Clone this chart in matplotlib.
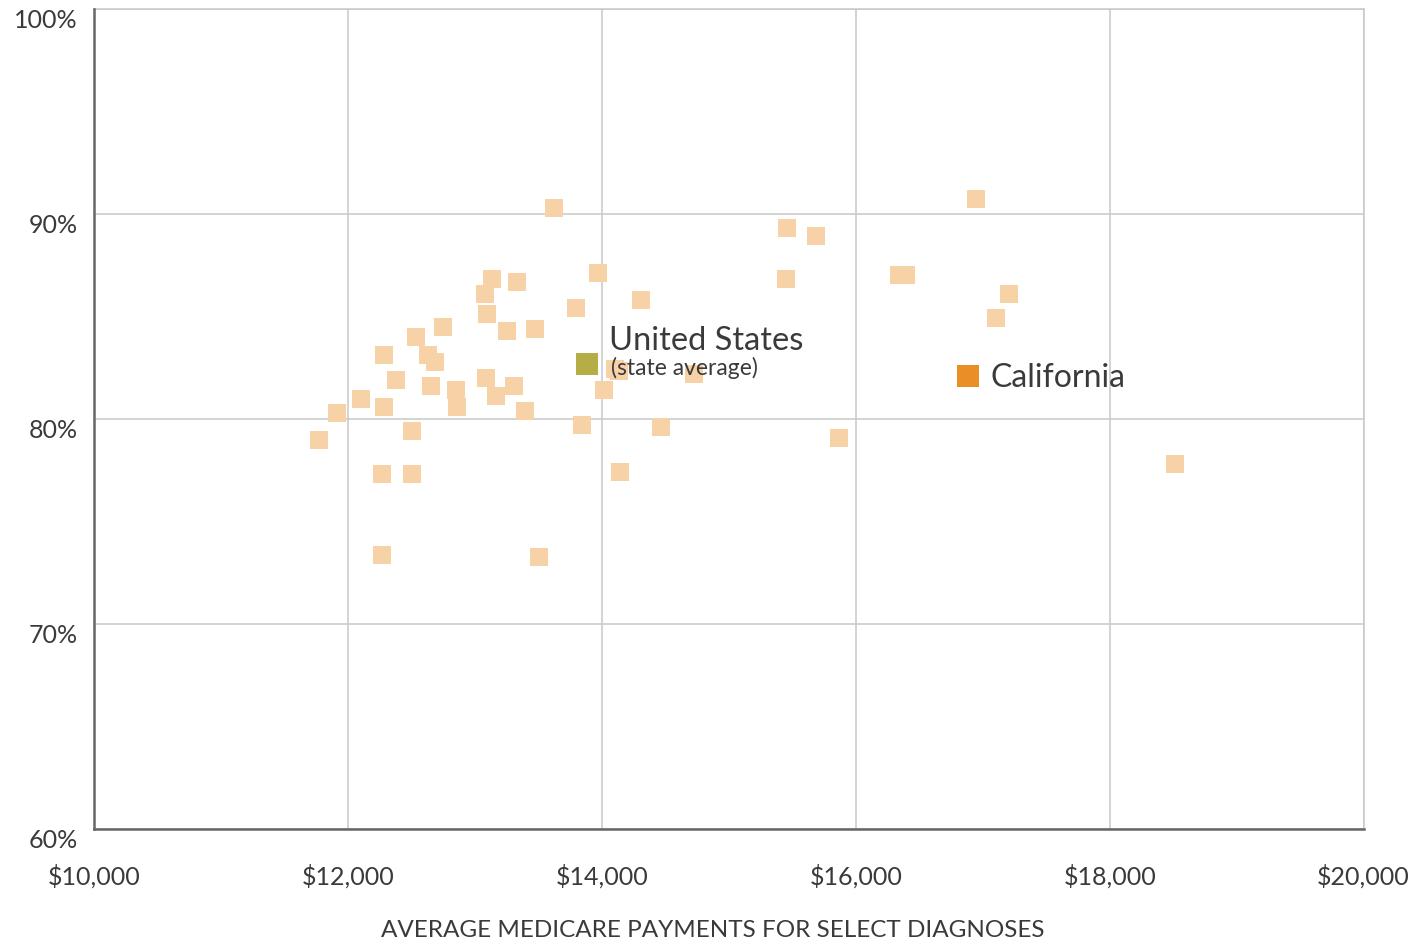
import matplotlib
matplotlib.use("Agg")
import matplotlib.pyplot as plt

plt.rcParams['font.family'] = ['Lato', 'DejaVu Sans']

# State averages: Medicare payments ($) vs. rate (%)
state_payments = [13130, 13332, 13080, 13095, 13797, 12749, 13253, 13474, 12536, 12284,
                  12630, 12686, 12378, 12654, 12851, 12859, 13087, 13166, 13308, 13395,
                  12102, 12284, 11913, 11771, 12504, 13844, 13623, 13970, 14309, 14102,
                  14133, 14726, 14017, 14141, 14466, 13503, 12266, 12266, 12502, 15457,
                  15685, 15449, 15867, 16339, 16394, 16946, 17206, 17104, 18514]
state_rates = [86.82, 86.67, 86.09, 85.11, 85.41, 84.48, 84.29, 84.38, 83.99, 83.12,
               83.12, 82.77, 81.90, 81.60, 81.41, 80.58, 82.00, 81.12, 81.60, 80.38,
               80.97, 80.58, 80.29, 78.97, 79.41, 79.70, 90.28, 87.11, 85.80, 82.45,
               82.37, 82.19, 81.41, 77.43, 79.60, 73.28, 73.38, 77.33, 77.33, 89.32,
               88.93, 86.84, 79.08, 87.03, 87.03, 90.74, 86.10, 84.93, 77.82]

us_payment, us_rate = 13881, 82.69
ca_payment, ca_rate = 16883, 82.11

x_ticks = [10000, 12000, 14000, 16000, 18000, 20000]
x_tick_labels = ['$10,000', '$12,000', '$14,000', '$16,000', '$18,000', '$20,000']
y_ticks = [60, 70, 80, 90, 100]
y_tick_labels = ['60%', '70%', '80%', '90%', '100%']

text_color = '#3a3a3a'
grid_color = '#c8c8c8'

fig = plt.figure(figsize=(14.14, 9.43), dpi=100)
ax = fig.add_axes([0.0668, 0.1206, 0.8975, 0.8699])

ax.scatter(state_payments, state_rates, marker='s', s=150, color='#F7D2A6',
           linewidths=0, zorder=3)
ax.scatter([us_payment], [us_rate], marker='s', s=250, color='#B5AD45',
           linewidths=0, zorder=4)
ax.scatter([ca_payment], [ca_rate], marker='s', s=250, color='#EA8F25',
           linewidths=0, zorder=4)

ax.set_xlim(10000, 20000)
ax.set_ylim(60, 100)
ax.set_xticks(x_ticks)
ax.set_xticklabels(x_tick_labels)
ax.set_yticks(y_ticks)
ax.set_yticklabels(y_tick_labels)
for lab in ax.get_yticklabels():
    lab.set_verticalalignment('top')

ax.tick_params(axis='x', length=0, pad=25, labelsize=18, labelcolor=text_color)
ax.tick_params(axis='y', length=0, pad=12, labelsize=18, labelcolor=text_color)

ax.grid(True, color=grid_color, linewidth=1.1, zorder=0)
ax.set_axisbelow(True)
for side in ['top', 'right']:
    ax.spines[side].set_color(grid_color)
    ax.spines[side].set_linewidth(1.1)
for side in ['left', 'bottom']:
    ax.spines[side].set_color('#666666')
    ax.spines[side].set_linewidth(1.8)
    ax.spines[side].set_zorder(5)

fig.text(0.504, 0.0135, 'AVERAGE MEDICARE PAYMENTS FOR SELECT DIAGNOSES',
         fontsize=17.5, color=text_color, ha='center', va='center')

ax.annotate('United States', xy=(us_payment, us_rate), xytext=(16, 10),
            textcoords='offset points', fontsize=23.5, color=text_color,
            va='baseline', ha='left', zorder=6)
ax.annotate('(state average)', xy=(us_payment, us_rate), xytext=(17, -8),
            textcoords='offset points', fontsize=16.5, color=text_color,
            va='baseline', ha='left', zorder=6)
ax.annotate('California', xy=(ca_payment, ca_rate), xytext=(16, -8),
            textcoords='offset points', fontsize=23, color=text_color,
            va='baseline', ha='left', zorder=6)

fig.savefig('out.png', dpi=100, facecolor='white')
